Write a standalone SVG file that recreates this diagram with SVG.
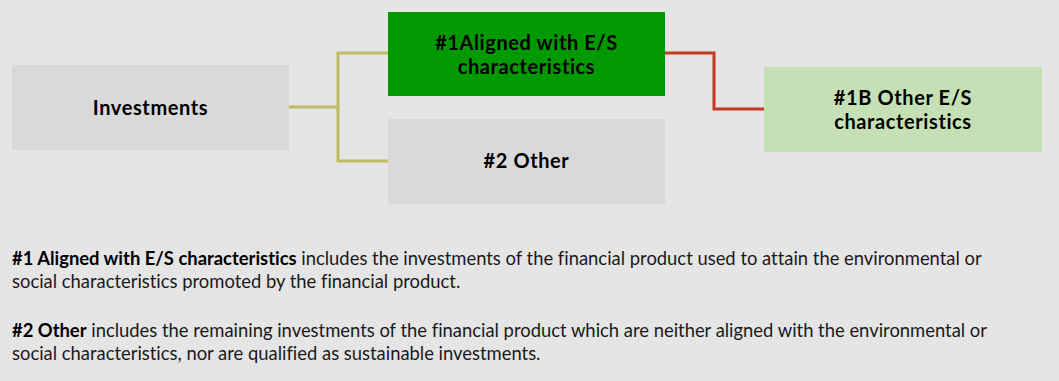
<svg xmlns="http://www.w3.org/2000/svg" width="1059" height="381" viewBox="0 0 1059 381">
<style>
.box{stroke:none}
.lbl{font-family:Lato,"Open Sans",sans-serif;font-weight:bold;font-size:20px;letter-spacing:0.6px;fill:#000;text-anchor:middle}
.body{font-family:Lato,"Liberation Sans",sans-serif;font-size:18.4px;fill:#1a1a1a;font-variant-ligatures:none}
.b{font-weight:bold;fill:#000}
.olive{fill:none;stroke:#bfbb62;stroke-width:3}
.red{fill:none;stroke:#c23b1e;stroke-width:3}
</style>
<rect width="1059" height="381" fill="#e5e5e5"/>
<g id="connectors">
<polyline class="olive" points="289,107 338,107"/>
<polyline class="olive" points="388,53 338,53 338,161 388,161"/>
<polyline class="red" points="665,53 714,53 714,109 764,109"/>
</g>
<g id="investments">
<rect class="box" x="12" y="65" width="277" height="85" fill="#d9d9d9"/>
<text class="lbl" x="150.5" y="115">Investments</text>
</g>
<g id="aligned">
<rect class="box" x="388" y="12" width="277" height="84" fill="#009900"/>
<text class="lbl" x="526.5" y="50">#1Aligned with E/S</text>
<text class="lbl" x="526.5" y="74">characteristics</text>
</g>
<g id="other">
<rect class="box" x="388" y="119" width="277" height="85" fill="#d9d9d9"/>
<text class="lbl" x="526.5" y="168">#2 Other</text>
</g>
<g id="other-es">
<rect class="box" x="764" y="67" width="278" height="85" fill="#c5e0b4"/>
<text class="lbl" x="903" y="105">#1B Other E/S</text>
<text class="lbl" x="903" y="129">characteristics</text>
</g>
<g id="notes">
<text class="body" x="12" y="265"><tspan class="b">#1 Aligned with E/S characteristics</tspan> includes the investments of the financial product used to attain the environmental or</text>
<text class="body" x="12" y="288">social characteristics promoted by the financial product.</text>
<text class="body" x="12" y="337"><tspan class="b">#2 Other</tspan> includes the remaining investments of the financial product which are neither aligned with the environmental or</text>
<text class="body" x="12" y="360">social characteristics, nor are qualified as sustainable investments.</text>
</g>
</svg>
